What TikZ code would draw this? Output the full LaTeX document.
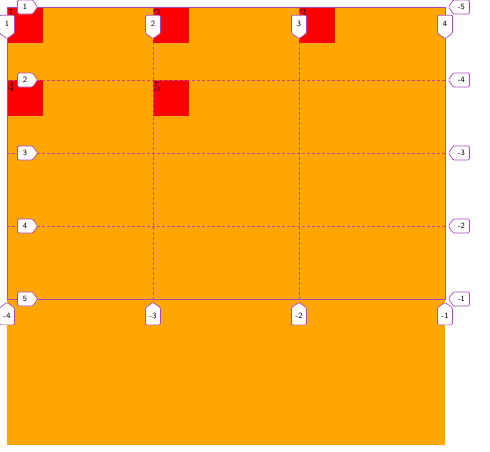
\documentclass[tikz,border=0pt]{standalone}
\usetikzlibrary{shapes.symbols}
\definecolor{gridorange}{RGB}{255,166,0}
\definecolor{cellred}{RGB}{255,0,0}
\definecolor{gridpurple}{RGB}{166,76,186}
\definecolor{gridline}{RGB}{196,74,120}
\definecolor{celltext}{RGB}{40,0,0}
\begin{document}
\begin{tikzpicture}[x=1pt,y=-1pt,font=\sffamily\fontsize{8}{9}\selectfont]
\tikzstyle{lbl}=[signal,draw=gridpurple,fill=white,rounded corners=1.2pt,
  inner sep=0.5pt,line width=0.7pt,signal pointer angle=110]
\tikzstyle{rowlbl}=[lbl,signal to=east,minimum width=20pt,minimum height=14pt]
\tikzstyle{neglbl}=[lbl,signal to=west,minimum width=21pt,minimum height=14pt]
\tikzstyle{collbl}=[lbl,signal to=south,minimum width=15pt,minimum height=20pt]
\tikzstyle{botlbl}=[lbl,signal to=north,minimum width=15pt,minimum height=20pt]
\tikzstyle{cell}=[fill=cellred,minimum size=36pt,inner sep=0pt,anchor=north west]
\tikzstyle{cellnum}=[anchor=north west,inner sep=0pt,text=celltext,
  font=\rmfamily\fontsize{14}{14}\selectfont]
\tikzstyle{gridrule}=[draw=gridline,line width=0.6pt,dash pattern=on 3pt off 2pt]
\useasboundingbox (0,0) rectangle (490,451);

% container
\fill[gridorange] (7,7) rectangle (445,445);

% placed items
\node[cell] (c1) at (7,7) {};
\node[cell] (c2) at (153,7) {};
\node[cell] (c3) at (299,7) {};
\node[cell] (c4) at (7,80) {};
\node[cell] (c5) at (153,80) {};
\node[cellnum] (t1) at ([xshift=0.5pt,yshift=-2pt]c1.north west) {1};
\node[cellnum] (t2) at ([xshift=0.5pt,yshift=-2pt]c2.north west) {2};
\node[cellnum] (t3) at ([xshift=0.5pt,yshift=-2pt]c3.north west) {3};
\node[cellnum] (t4) at ([xshift=0.5pt,yshift=-2pt]c4.north west) {4};
\node[cellnum] (t5) at ([xshift=0.5pt,yshift=-2pt]c5.north west) {5};

% grid lines
\draw[gridrule] (153,7) -- (153,303);
\draw[gridrule] (299,7) -- (299,303);
\draw[gridrule] (7,80) -- (445,80);
\draw[gridrule] (7,153) -- (445,153);
\draw[gridrule] (7,226) -- (445,226);
\draw[gridpurple,line width=0.8pt] (7,7) rectangle (445,299);

% row numbers
\node[rowlbl,anchor=east] (r1) at (38,7) {1};
\node[rowlbl,anchor=east] (r2) at (38,80) {2};
\node[rowlbl,anchor=east] (r3) at (38,153) {3};
\node[rowlbl,anchor=east] (r4) at (38,226) {4};
\node[rowlbl,anchor=east] (r5) at (38,299) {5};
\node[neglbl,anchor=west] (rn5) at (448,7) {-5};
\node[neglbl,anchor=west] (rn4) at (448,80) {-4};
\node[neglbl,anchor=west] (rn3) at (448,153) {-3};
\node[neglbl,anchor=west] (rn2) at (448,226) {-2};
\node[neglbl,anchor=west] (rn1) at (448,299) {-1};

% column numbers
\node[collbl,anchor=south] (k1) at (7,39) {1};
\node[collbl,anchor=south] (k2) at (153,39) {2};
\node[collbl,anchor=south] (k3) at (299,39) {3};
\node[collbl,anchor=south] (k4) at (445,39) {4};
\node[botlbl,anchor=north] (kn4) at (7,302) {-4};
\node[botlbl,anchor=north] (kn3) at (153,302) {-3};
\node[botlbl,anchor=north] (kn2) at (299,302) {-2};
\node[botlbl,anchor=north] (kn1) at (445,302) {-1};
\end{tikzpicture}
\end{document}
